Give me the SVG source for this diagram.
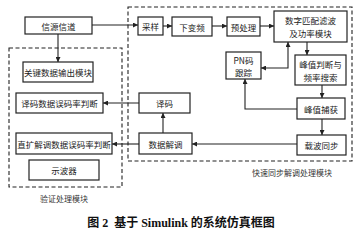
<svg xmlns="http://www.w3.org/2000/svg" width="360" height="232" viewBox="0 0 360 232">
<style>
.b{fill:#fff;stroke:#222;stroke-width:1.2}
.t{font-family:"Noto Sans CJK SC","Noto Sans",sans-serif;font-size:8.5px;fill:#222;text-anchor:middle;dominant-baseline:central}
.c{fill:none;stroke:#222;stroke-width:1.1}
.d{fill:none;stroke:#222;stroke-width:1.1;stroke-dasharray:4 2.5}
.l{font-family:"Noto Sans CJK SC","Noto Sans",sans-serif;font-size:8px;fill:#333;text-anchor:middle}
</style>
<defs>
<marker id="a" viewBox="0 0 10 10" refX="10" refY="5" markerWidth="5" markerHeight="5" orient="auto-start-reverse" markerUnits="userSpaceOnUse">
<path d="M0,0 L10,5 L0,10 z" fill="#222"/>
</marker>
</defs>
<rect width="360" height="232" fill="#fff"/>
<g id="frames">
<rect class="d" x="128" y="7" width="224" height="154"/>
<rect class="d" x="9" y="48" width="113" height="139"/>
<text class="l" x="292" y="176">快速同步解调处理模块</text>
<text class="l" x="64" y="202">验证处理模块</text>
</g>
<g id="connectors">
<line class="c" x1="92" y1="25" x2="138" y2="25" marker-end="url(#a)"/>
<line class="c" x1="58" y1="34" x2="58" y2="62" marker-end="url(#a)"/>
<line class="c" x1="163" y1="26" x2="172" y2="26" marker-end="url(#a)"/>
<line class="c" x1="212" y1="26" x2="227" y2="26" marker-end="url(#a)"/>
<line class="c" x1="260" y1="26" x2="274" y2="26" marker-end="url(#a)"/>
<line class="c" x1="307" y1="42" x2="307" y2="55" marker-end="url(#a)"/>
<polyline class="c" points="288,42 288,68 261,68" marker-start="url(#a)" marker-end="url(#a)"/>
<line class="c" x1="322" y1="85" x2="322" y2="98" marker-end="url(#a)"/>
<line class="c" x1="322" y1="119" x2="322" y2="135" marker-end="url(#a)"/>
<polyline class="c" points="297,109 245,109 245,79" marker-end="url(#a)"/>
<line class="c" x1="297" y1="144" x2="192" y2="144" marker-end="url(#a)"/>
<line class="c" x1="163" y1="133" x2="163" y2="113" marker-end="url(#a)"/>
<line class="c" x1="139" y1="103" x2="103" y2="103" marker-end="url(#a)"/>
<line class="c" x1="139" y1="144" x2="112" y2="144" marker-end="url(#a)"/>
</g>
<g id="xinyuan"><rect class="b" x="25" y="17" width="67" height="17"/><text class="t" x="58.5" y="25.5">信源信道</text></g>
<g id="caiyang"><rect class="b" x="138" y="17" width="25" height="18"/><text class="t" x="150.5" y="26">采样</text></g>
<g id="xiabianpin"><rect class="b" x="172" y="17" width="40" height="19"/><text class="t" x="192" y="26.5">下变频</text></g>
<g id="yuchuli"><rect class="b" x="227" y="17" width="33" height="19"/><text class="t" x="243.5" y="26.5">预处理</text></g>
<g id="pipei"><rect class="b" x="274" y="11" width="73" height="31"/><text class="t" x="310.5" y="20">数字匹配滤波</text><text class="t" x="310.5" y="33">及功率模块</text></g>
<g id="fengzhipanduan"><rect class="b" x="295" y="55" width="51" height="30"/><text class="t" x="320.5" y="64">峰值判断与</text><text class="t" x="320.5" y="77">频率搜索</text></g>
<g id="pn"><rect class="b" x="226" y="52" width="35" height="27"/><text class="t" x="243.5" y="60">PN码</text><text class="t" x="243.5" y="72">跟踪</text></g>
<g id="fengzhibuhuo"><rect class="b" x="297" y="98" width="48" height="21"/><text class="t" x="321" y="108.5">峰值捕获</text></g>
<g id="zaibo"><rect class="b" x="297" y="135" width="49" height="20"/><text class="t" x="321.5" y="145">载波同步</text></g>
<g id="yima"><rect class="b" x="139" y="93" width="51" height="20"/><text class="t" x="164.5" y="103">译码</text></g>
<g id="shujujietiao"><rect class="b" x="139" y="133" width="53" height="21"/><text class="t" x="165.5" y="143.5">数据解调</text></g>
<g id="guanjian"><rect class="b" x="23" y="62" width="70" height="20"/><text class="t" x="58" y="72">关键数据输出模块</text></g>
<g id="yimawuma"><rect class="b" x="16" y="93" width="87" height="20"/><text class="t" x="59.5" y="103">译码数据误码率判断</text></g>
<g id="zhikuo"><rect class="b" x="16" y="133" width="96" height="21"/><text class="t" x="64" y="143.5">直扩解调数据误码率判断</text></g>
<g id="shiboqi"><rect class="b" x="29" y="160" width="70" height="20"/><text class="t" x="64" y="170">示波器</text></g>
<text x="181" y="227" font-family="'Liberation Serif','Noto Sans CJK SC',serif" font-size="12" font-weight="bold" fill="#111" text-anchor="middle" xml:space="preserve">图 2  基于 Simulink 的系统仿真框图</text>
</svg>
